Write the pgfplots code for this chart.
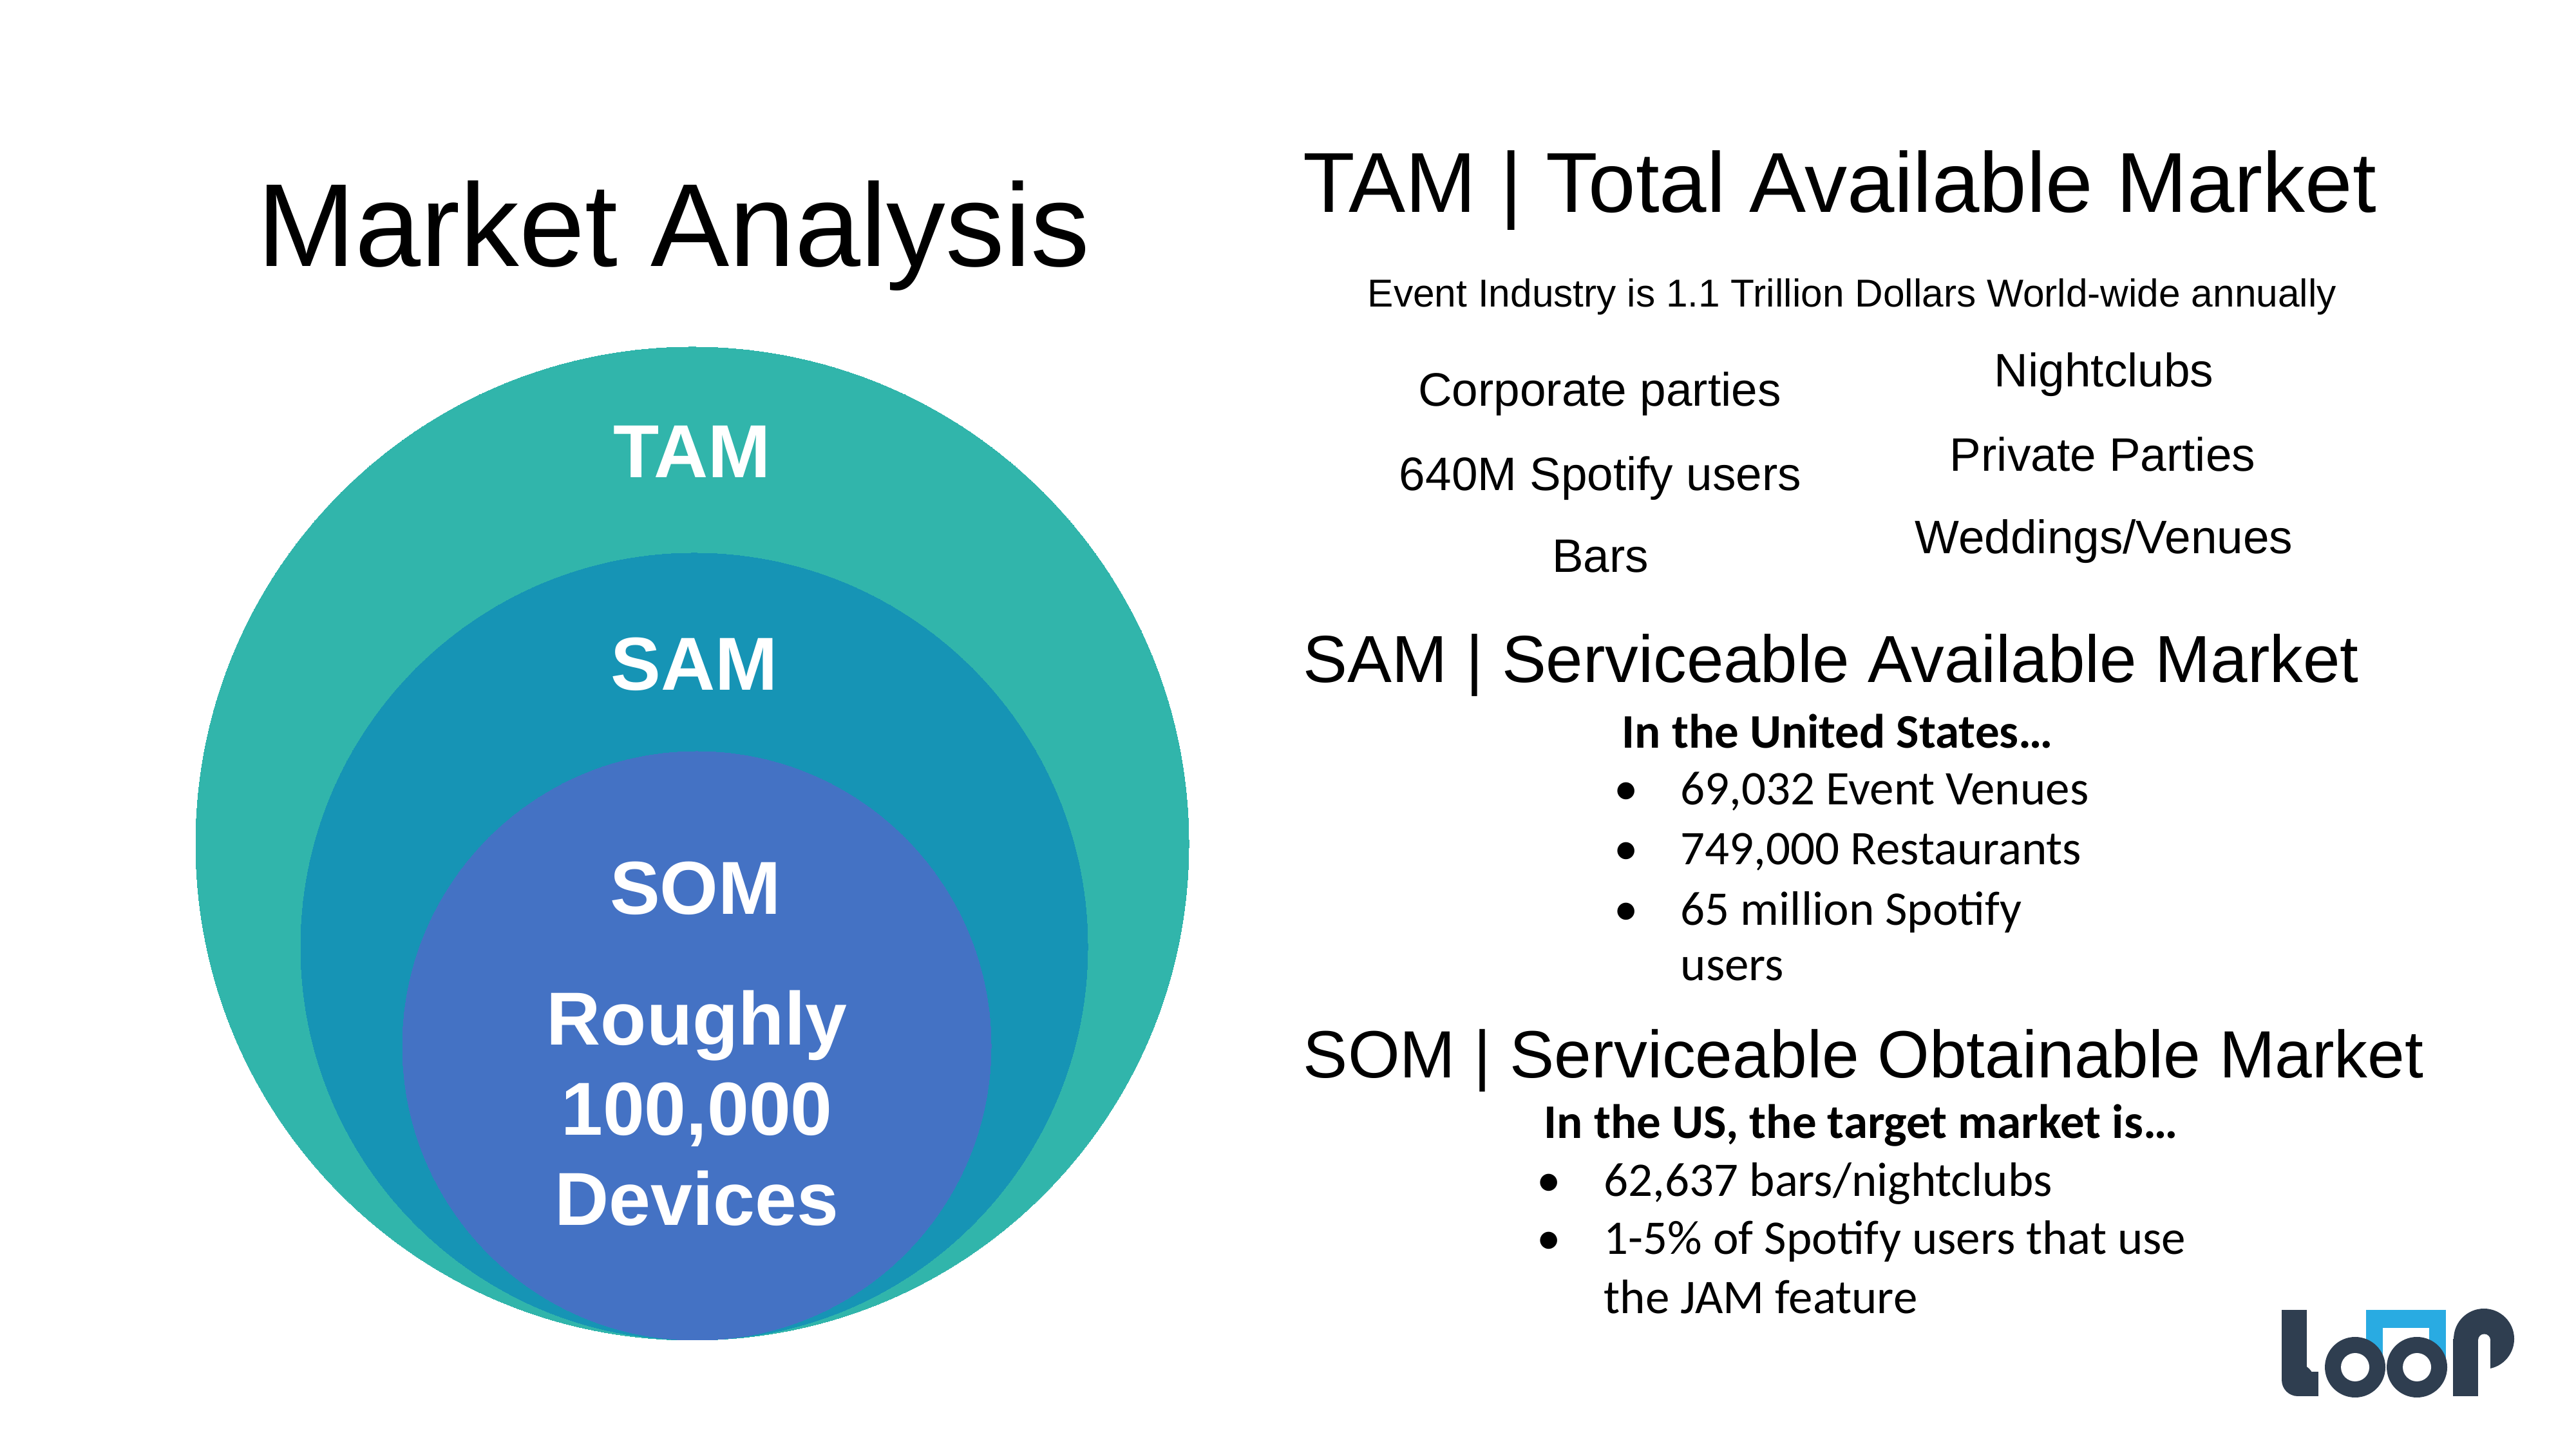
\documentclass[border=0pt]{standalone}
\usepackage{pgfplots}
\pgfplotsset{compat=1.18}
\usepackage{fontspec}
\setmainfont{Liberation Sans}
\newfontfamily\calibri{Carlito}
\definecolor{tam}{RGB}{49,181,171}
\definecolor{sam}{RGB}{22,148,181}
\definecolor{som}{RGB}{68,114,196}
\definecolor{logodark}{RGB}{47,62,80}
\definecolor{logoblue}{RGB}{41,171,226}
\newcommand{\fs}[2]{\fontsize{#1}{#2}\selectfont}
\begin{document}
\begin{tikzpicture}
\begin{axis}[width=960pt,height=540pt,scale only axis,
  xmin=0,xmax=4000,ymin=0,ymax=2250,hide axis,clip=false,clip marker paths=true]
\path (axis cs:0,0) rectangle (axis cs:4000,2250);
% nested market circles (centre x, centre y, radius as mark size)
\addplot[color=tam, only marks, mark=*, mark size=185.04pt, mark options={draw=tam,fill=tam,line width=0pt}] coordinates {(1075,940)};
\addplot[color=sam, only marks, mark=*, mark size=146.64pt, mark options={draw=sam,fill=sam,line width=0pt}] coordinates {(1078,780)};
\addplot[color=som, only marks, mark=*, mark size=109.68pt, mark options={draw=som,fill=som,line width=0pt}] coordinates {(1082,626)};
% circle labels
\begin{scope}[every node/.style={anchor=base,inner sep=0pt,text=white,font=\bfseries\fs{28}{34}}]
\node at (axis cs:1075,1508) {TAM};
\node at (axis cs:1078,1178) {SAM};
\node at (axis cs:1080,830) {SOM};
\node at (axis cs:1082,627) {Roughly};
\node at (axis cs:1082,487) {100,000};
\node at (axis cs:1082,347) {Devices};
\end{scope}
% title
\node[anchor=base,inner sep=0pt,font=\fs{44}{52}] at (axis cs:1046,1836) {Market Analysis};
% TAM section
\node[anchor=base west,inner sep=0pt,font=\fs{31.7}{38}] at (axis cs:2023,1920) {TAM | Total Available Market};
\node[anchor=base,inner sep=0pt,font=\fs{14.5}{17}] at (axis cs:2876,1773) {Event Industry is 1.1 Trillion Dollars World-wide annually};
\begin{scope}[every node/.style={anchor=base,inner sep=0pt,font=\fs{17.5}{21}}]
\node at (axis cs:2484,1619) {Corporate parties};
\node at (axis cs:3267,1649) {Nightclubs};
\node at (axis cs:2485,1488) {640M Spotify users};
\node at (axis cs:3265,1518) {Private Parties};
\node at (axis cs:2485,1361) {Bars};
\node at (axis cs:3267,1390) {Weddings/Venues};
\end{scope}
% SAM section
\node[anchor=base west,inner sep=0pt,font=\fs{24.8}{30}] at (axis cs:2023,1190) {SAM | Serviceable Available Market};
\begin{scope}[every node/.style={anchor=base west,inner sep=0pt,font=\calibri\fs{18}{22}}]
\node[font=\calibri\bfseries\fs{18}{22}] at (axis cs:2518,1088) {In the United States…};
\node at (axis cs:2609,1000) {69,032 Event Venues};
\node at (axis cs:2609,907) {749,000 Restaurants};
\node at (axis cs:2609,813) {65 million Spotify};
\node at (axis cs:2609,727) {users};
\node[anchor=base] at (axis cs:2525,1000) {•};
\node[anchor=base] at (axis cs:2525,907) {•};
\node[anchor=base] at (axis cs:2525,813) {•};
\end{scope}
% SOM section
\node[anchor=base west,inner sep=0pt,font=\fs{24.9}{30}] at (axis cs:2023,576) {SOM | Serviceable Obtainable Market};
\begin{scope}[every node/.style={anchor=base west,inner sep=0pt,font=\calibri\fs{18}{22}}]
\node[font=\calibri\bfseries\fs{18}{22}] at (axis cs:2397,482) {In the US, the target market is…};
\node at (axis cs:2490,392) {62,637 bars/nightclubs};
\node at (axis cs:2490,302) {1-5\% of Spotify users that use};
\node at (axis cs:2490,210) {the JAM feature};
\node[anchor=base] at (axis cs:2405,392) {•};
\node[anchor=base] at (axis cs:2405,302) {•};
\end{scope}
% logo "loop"
\fill[logoblue] (axis cs:3674,216) rectangle (axis cs:3798,140);
\fill[white] (axis cs:3700,188) rectangle (axis cs:3772,127);
\fill[logodark] (axis cs:3543,216) rectangle (axis cs:3582,107);
\fill[logodark] (axis cs:3568,120) rectangle (axis cs:3600,82);
\fill[logodark] (axis cs:3568,107) circle[radius=6pt];
\fill[logodark] (axis cs:3657,127) circle[radius=11.28pt];
\fill[white] (axis cs:3657,127) circle[radius=5.28pt];
\fill[logodark] (axis cs:3753,127) circle[radius=11.28pt];
\fill[white] (axis cs:3753,127) circle[radius=5.28pt];
\fill[logodark] (axis cs:3857,171) circle[radius=11.28pt];
\fill[logodark] (axis cs:3809,171) rectangle (axis cs:3848,82);
\fill[white] (axis cs:3848,169) rectangle (axis cs:3867,118);
\fill[white] (axis cs:3857.5,169) circle[radius=2.28pt];
\end{axis}
\end{tikzpicture}
\end{document}
